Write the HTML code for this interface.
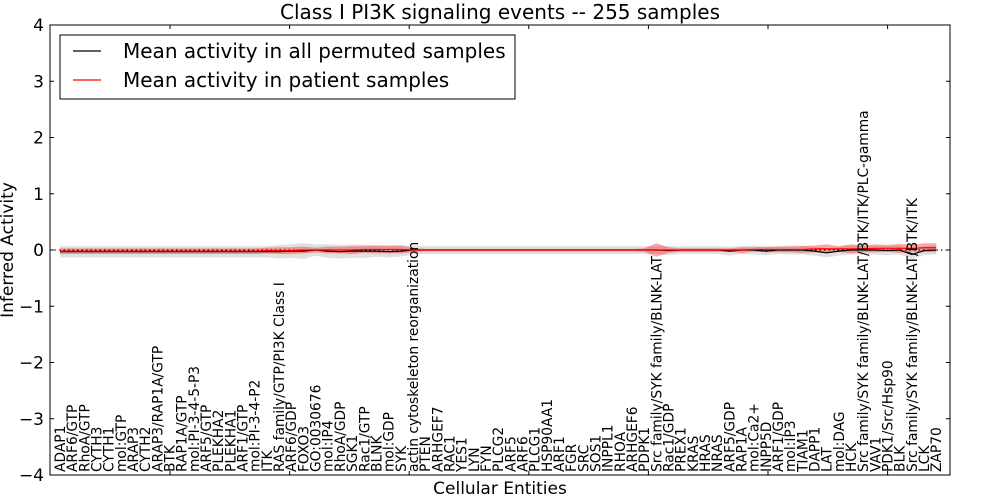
<!DOCTYPE html>
<html><head><meta charset="utf-8"><style>
body{margin:0;background:#fff;}
svg{display:block;font-family:"DejaVu Sans","Liberation Sans",sans-serif;}
</style></head><body>
<svg id="chart" width="1000" height="500">
<text x="500" y="19" font-size="20" text-anchor="middle">Class I PI3K signaling events -- 255 samples</text>
<g id="bands"></g>
<g id="lines"></g>
<g id="axes"></g>
<g id="xlabels"></g>
<rect x="50" y="25" width="900" height="450" fill="none" stroke="#000" stroke-width="1"/>
<text x="13" y="250" font-size="17" text-anchor="middle" transform="rotate(-90 13 250)">Inferred Activity</text>
<text x="500" y="494" font-size="17" text-anchor="middle">Cellular Entities</text>
<g>
<rect x="60" y="35" width="455" height="64" fill="#fff" stroke="#000" stroke-width="1"/>
<line x1="73" y1="51" x2="101" y2="51" stroke="#000" stroke-width="1.2"/>
<text x="123" y="58" font-size="20">Mean activity in all permuted samples</text>
<line x1="73" y1="80" x2="101" y2="80" stroke="#f00" stroke-width="1.2"/>
<text x="123" y="87" font-size="20">Mean activity in patient samples</text>
</g>
</svg>
<script>
const categories=["ADAP1","ARF6/GTP","RhoA/GTP","CYTH3","CYTH1","mol:GTP","ARAP3","CYTH2","ARAP3/RAP1A/GTP","BTK","RAP1A/GTP","mol:PI-3-4-5-P3","ARF5/GTP","PLEKHA2","PLEKHA1","ARF1/GTP","mol:PI-3-4-P2","ITK","RAS family/GTP/PI3K Class I","ARF6/GDP","FOXO3","GO:0030676","mol:IP4","RhoA/GDP","SGK1","Rac1/GTP","BLNK","mol:GDP","SYK","actin cytoskeleton reorganization","PTEN","ARHGEF7","RAC1","YES1","LYN","FYN","PLCG2","ARF5","ARF6","PLCG1","HSP90AA1","ARF1","FGR","SRC","SOS1","INPPL1","RHOA","ARHGEF6","PDPK1","Src family/SYK family/BLNK-LAT","Rac1/GDP","PREX1","KRAS","HRAS","NRAS","ARF5/GDP","RAP1A","mol:Ca2+","INPP5D","ARF1/GDP","mol:IP3","TIAM1","DAPP1","LAT","mol:DAG","HCK","Src family/SYK family/BLNK-LAT/BTK/ITK/PLC-gamma","VAV1","PDK1/Src/Hsp90","BLK","Src family/SYK family/BLNK-LAT/BTK/ITK","LCK","ZAP70"];
const permutedMean=[
-0.03,-0.03,-0.03,-0.03,-0.03,-0.03,-0.03,-0.03,-0.03,-0.03,
-0.03,-0.03,-0.03,-0.03,-0.03,-0.03,-0.03,-0.03,-0.03,-0.02,
-0.02,0,-0.02,-0.03,-0.02,-0.02,-0.02,-0.03,-0.02,0,
0,0,0,0,0,0,0,0,0,0,
0,0,0,0,0,0,0,0,0,0,
-0.01,0,0,0,0,-0.02,0,0,-0.02,0,
0,0,-0.02,-0.05,-0.02,0,0,0,-0.01,0,
-0.08,-0.01,0];
const permutedSpread=[
0.1,0.1,0.1,0.1,0.1,0.1,0.1,0.1,0.1,0.1,
0.1,0.1,0.1,0.1,0.1,0.1,0.1,0.1,0.12,0.12,
0.14,0.1,0.12,0.12,0.12,0.12,0.1,0.1,0.1,0.08,
0.07,0.07,0.07,0.07,0.07,0.07,0.07,0.07,0.07,0.07,
0.07,0.07,0.07,0.07,0.07,0.07,0.07,0.07,0.07,0.07,
0.08,0.07,0.07,0.07,0.07,0.08,0.07,0.08,0.07,0.07,
0.08,0.08,0.08,0.08,0.08,0.08,0.08,0.08,0.08,0.08,
0.08,0.08,0.08];
const patientMean=[
-0.02,-0.02,-0.02,-0.02,-0.02,-0.02,-0.02,-0.02,-0.02,-0.02,
-0.02,-0.02,-0.02,-0.02,-0.02,-0.02,-0.02,-0.01,-0.01,-0.01,
0,0,0,0,0,0.01,0.01,0.01,0.01,0,
0,0,0,0,0,0,0,0,0,0,
0,0,0,0,0,0,0,0,0,0,
0,0,0,0,0,0,0,0.01,0.01,0.01,
0.01,0.01,0.02,0.02,0.02,0.02,0.02,0.03,0.03,0.03,
0.03,0.04,0.04];
const patientSpread=[
0.05,0.05,0.05,0.05,0.05,0.05,0.05,0.05,0.05,0.05,
0.05,0.05,0.05,0.05,0.05,0.05,0.05,0.05,0.06,0.06,
0.06,0.04,0.06,0.06,0.07,0.06,0.07,0.07,0.07,0.04,
0.02,0.02,0.02,0.02,0.02,0.02,0.02,0.02,0.02,0.02,
0.02,0.02,0.02,0.02,0.02,0.02,0.02,0.02,0.03,0.12,
0.05,0.03,0.03,0.03,0.03,0.03,0.05,0.04,0.05,0.05,
0.05,0.06,0.06,0.08,0.05,0.08,0.06,0.07,0.06,0.08,
0.06,0.08,0.08];
const yTicks=[-4,-3,-2,-1,0,1,2,3,4];
const NS="http://www.w3.org/2000/svg";
const xS=i=>60+i*12.17;
const yS=v=>250-v*56.25;
function mk(tag,attrs,parent){const e=document.createElementNS(NS,tag);for(const k in attrs)e.setAttribute(k,attrs[k]);parent.appendChild(e);return e;}
const bands=document.getElementById('bands'),lines=document.getElementById('lines'),axes=document.getElementById('axes'),xl=document.getElementById('xlabels');
function band(mean,spread,fill,op,name){
  let up=mean.map((m,i)=>xS(i)+","+yS(m+spread[i]));
  let dn=mean.map((m,i)=>xS(i)+","+yS(m-spread[i])).reverse();
  const p=mk('polygon',{points:up.concat(dn).join(' '),fill:fill,'fill-opacity':op},bands);
  
  
}
band(permutedMean,permutedSpread,'#cccccc',0.6,'permuted-band');
band(patientMean,patientSpread,'#ff0000',0.35,'patient-band');
const z=mk('line',{x1:50,x2:950,y1:yS(0),y2:yS(0),stroke:'#000','stroke-dasharray':'1.5,3','stroke-width':1},lines);


const pl=mk('polyline',{points:permutedMean.map((m,i)=>xS(i)+","+yS(m)).join(' '),fill:'none',stroke:'#000','stroke-width':1.2},lines);


const rl=mk('polyline',{points:patientMean.map((m,i)=>xS(i)+","+yS(m)).join(' '),fill:'none',stroke:'#f00','stroke-width':1.2},lines);


yTicks.forEach(v=>{
  const y=yS(v);
  mk('line',{x1:50,x2:54,y1:y,y2:y,stroke:'#000'},axes);
  mk('line',{x1:946,x2:950,y1:y,y2:y,stroke:'#000'},axes);
  const t=mk('text',{x:44,y:y+6,'font-size':17,'text-anchor':'end'},axes);
  t.textContent=(v<0?'\u2212'+(-v):''+v);
  
  
});
for(let k=0;k<7;k++){const x=170+k*119.6;
  mk('line',{x1:x,x2:x,y1:25,y2:29,stroke:'#000'},axes);
  mk('line',{x1:x,x2:x,y1:471,y2:475,stroke:'#000'},axes);}
categories.forEach((c,i)=>{
  const x=xS(i)+5;
  const t=mk('text',{x:x,y:472,'font-size':13.8,transform:`rotate(-90 ${x} 472)`},xl);
  t.textContent=c;
  
  
});
</script>
</body></html>
